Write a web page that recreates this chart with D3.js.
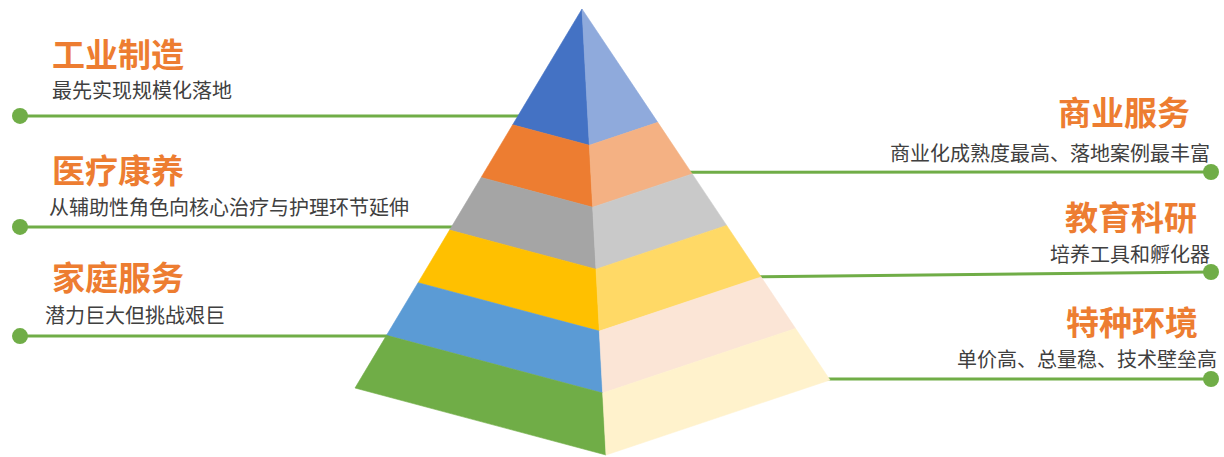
<!DOCTYPE html>
<html>
<head>
<meta charset="utf-8">
<script src="https://cdn.jsdelivr.net/npm/d3@7"></script>
<style>
  html, body { margin: 0; padding: 0; background: #fff; }
  svg { display: block; font-family: "Noto Sans CJK SC", "Noto Sans", sans-serif; }
</style>
</head>
<body>
<svg id="chart" width="1224" height="457"></svg>
<script>
// layers from top to bottom, relative thickness of each band
const layers = ["顶层", "第二层", "第三层", "第四层", "第五层", "底层"];
const layerWeights = [2.2, 1, 1, 1, 1, 1];

// labels on the left and right of the pyramid
const leftTitles = ["工业制造", "医疗康养", "家庭服务"];
const leftNotes = ["最先实现规模化落地", "从辅助性角色向核心治疗与护理环节延伸", "潜力巨大但挑战艰巨"];
const rightTitles = ["商业服务", "教育科研", "特种环境"];
const rightNotes = ["商业化成熟度最高、落地案例最丰富", "培养工具和孵化器", "单价高、总量稳、技术壁垒高"];

// colours
const leftFaceColors = ["#4472C4", "#ED7D31", "#A5A5A5", "#FFC000", "#5B9BD5", "#70AD47"];
const rightFaceColors = ["#8FAADC", "#F4B183", "#C9C9C9", "#FFD966", "#FBE5D6", "#FFF2CC"];
const green = "#70AD47";
const orange = "#ED7D31";
const grey = "#404040";

const svg = d3.select("#chart");

// pyramid corners
const apex = [582, 9];
const cornerL = [355, 388];
const cornerF = [606, 455];
const cornerR = [830, 380];

// interpolateArray reuses its output array, so copy each point
const edge = (a, b) => {
  const s = d3.scaleLinear().domain([0, 1]).range([a, b]);
  return (t) => s(t).slice();
};
const edgeL = edge(apex, cornerL);
const edgeF = edge(apex, cornerF);
const edgeR = edge(apex, cornerR);

// cumulative band boundaries (0 = apex, 1 = base)
const total = d3.sum(layerWeights);
const cum = [0].concat(Array.from(d3.cumsum(layerWeights), (v) => v / total));

// leader lines (drawn under the pyramid)
const lines = svg.append("g");
const leftAnchors = [0.282, 0.575, 0.863];
const rightAnchors = [0.44, 0.722, 0.997];
const leftDotX = 20;
const rightDotX = 1211;
const rightDotY = [172, 272, 379];

leftAnchors.forEach((t) => {
  const p = edgeL(t);
  lines.append("line")
    .attr("x1", leftDotX).attr("y1", p[1])
    .attr("x2", p[0] + 4).attr("y2", p[1])
    .attr("stroke", green).attr("stroke-width", 3);
  lines.append("circle")
    .attr("cx", leftDotX).attr("cy", p[1]).attr("r", 8)
    .attr("fill", green);
});

rightAnchors.forEach((t, i) => {
  const p = edgeR(t);
  lines.append("line")
    .attr("x1", p[0] - 4).attr("y1", p[1])
    .attr("x2", rightDotX).attr("y2", rightDotY[i])
    .attr("stroke", green).attr("stroke-width", 3);
  lines.append("circle")
    .attr("cx", rightDotX).attr("cy", rightDotY[i]).attr("r", 8)
    .attr("fill", green);
});

// pyramid bands
const pyr = svg.append("g");
const poly = (pts) => "M" + pts.map((p) => p.join(",")).join("L") + "Z";

layers.forEach((name, i) => {
  const t0 = cum[i];
  const t1 = cum[i + 1];
  const leftPts = i === 0
    ? [apex, edgeL(t1), edgeF(t1)]
    : [edgeL(t0), edgeL(t1), edgeF(t1), edgeF(t0)];
  const rightPts = i === 0
    ? [apex, edgeF(t1), edgeR(t1)]
    : [edgeF(t0), edgeF(t1), edgeR(t1), edgeR(t0)];

  pyr.append("path")
    .attr("d", poly(leftPts))
    .attr("fill", leftFaceColors[i])
    .attr("stroke", leftFaceColors[i])
    .attr("stroke-width", 0.6);
  pyr.append("path")
    .attr("d", poly(rightPts))
    .attr("fill", rightFaceColors[i])
    .attr("stroke", rightFaceColors[i])
    .attr("stroke-width", 0.6);
});

// text labels
const labels = svg.append("g");
const leftTitleY = [67, 183, 290];
const leftNoteX = [52, 49, 45];
const leftNoteY = [98, 215, 323];
const rightTitleX = [1190, 1197, 1198];
const rightTitleY = [125, 230, 335];
const rightNoteX = [1210, 1210, 1217];
const rightNoteY = [161, 262, 367];

leftTitles.forEach((d, i) => {
  labels.append("text")
    .attr("x", 52).attr("y", leftTitleY[i])
    .text(d)
    .style("fill", orange)
    .style("font-size", "33px")
    .style("font-weight", "bold");
  labels.append("text")
    .attr("x", leftNoteX[i]).attr("y", leftNoteY[i])
    .text(leftNotes[i])
    .style("fill", grey)
    .style("font-size", "20px");
});

rightTitles.forEach((d, i) => {
  labels.append("text")
    .attr("x", rightTitleX[i]).attr("y", rightTitleY[i])
    .attr("text-anchor", "end")
    .text(d)
    .style("fill", orange)
    .style("font-size", "33px")
    .style("font-weight", "bold");
  labels.append("text")
    .attr("x", rightNoteX[i]).attr("y", rightNoteY[i])
    .attr("text-anchor", "end")
    .text(rightNotes[i])
    .style("fill", grey)
    .style("font-size", "20px");
});
</script>
</body>
</html>
